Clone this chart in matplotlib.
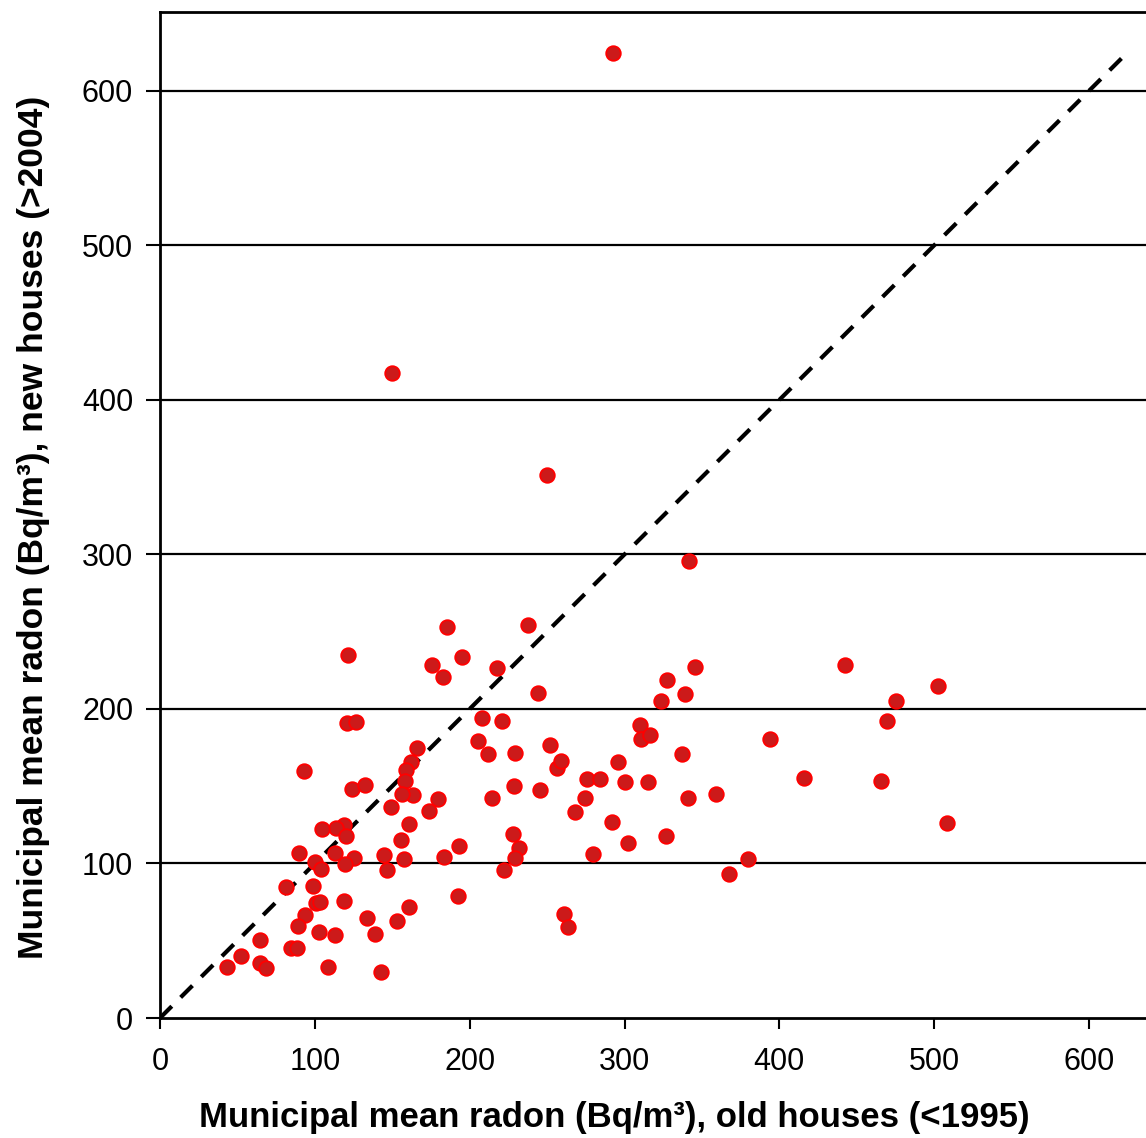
import matplotlib
matplotlib.use("Agg")
import matplotlib.pyplot as plt

old_houses = [292.6, 149.8, 250.0, 341.7, 121.4, 185.4, 237.7, 175.7, 182.8, 195.0,
              217.7, 244.0, 327.5, 345.5, 323.6, 339.1, 442.4, 475.4, 469.5, 502.5,
              120.8, 126.6, 208.0, 220.9, 205.4, 211.8, 229.3, 251.9, 310.0, 310.7,
              316.5, 337.2, 394.0, 165.9, 162.0, 158.9, 93.0, 124.0, 132.4, 158.2,
              163.4, 156.3, 179.6, 214.4, 228.6, 245.4, 256.4, 259.0, 275.8, 284.2,
              295.8, 300.3, 315.2, 274.5, 359.1, 341.0, 415.9, 465.7, 508.3, 149.2,
              118.8, 113.7, 104.6, 120.2, 160.8, 173.7, 155.7, 227.9, 291.9, 302.2,
              326.8, 89.8, 113.0, 100.1, 125.3, 119.5, 144.7, 157.6, 183.4, 193.1,
              231.9, 229.3, 279.7, 379.8, 367.5, 104.0, 146.6, 222.1, 81.4, 98.8,
              100.8, 103.3, 118.8, 93.6, 89.1, 192.5, 133.7, 153.1, 160.8, 261.0,
              263.5, 102.7, 113.0, 138.9, 64.6, 84.6, 88.5, 52.3, 43.3, 64.6,
              68.5, 108.5, 142.7, 268.0]
new_houses = [624.6, 417.5, 351.5, 295.8, 235.0, 253.0, 254.4, 228.5, 220.7, 233.7,
              226.5, 210.4, 218.8, 227.2, 205.2, 209.7, 228.5, 205.2, 192.2, 214.9,
              190.9, 191.6, 194.2, 192.2, 179.3, 170.9, 171.5, 176.7, 189.6, 180.6,
              183.2, 170.9, 180.6, 174.8, 165.7, 160.5, 159.9, 148.2, 150.8, 153.4,
              144.3, 145.0, 141.7, 142.4, 150.2, 147.6, 161.8, 166.3, 154.7, 154.7,
              165.7, 152.8, 152.8, 142.4, 145.0, 142.4, 155.3, 153.4, 126.2, 136.6,
              124.9, 122.9, 122.3, 117.8, 125.6, 134.0, 115.2, 119.1, 126.9, 113.3,
              117.8, 106.8, 106.8, 101.0, 103.6, 99.7, 105.5, 102.9, 104.2, 111.3,
              110.0, 103.6, 106.2, 102.9, 93.2, 96.4, 95.8, 95.8, 84.8, 85.4,
              74.5, 75.1, 75.7, 66.7, 59.5, 79.0, 64.7, 62.8, 71.8, 67.3,
              58.9, 55.7, 53.7, 54.4, 50.5, 45.3, 45.3, 40.1, 33.0, 35.6,
              32.4, 33.0, 29.8, 133.3]
y_ticks = [0, 100, 200, 300, 400, 500, 600]
x_ticks = [0, 100, 200, 300, 400, 500, 600]
identity = [0, 622]

plt.rcParams['font.family'] = ['Liberation Sans', 'DejaVu Sans']

fig = plt.figure(figsize=(11.46, 11.38), dpi=100)
ax = fig.add_axes([160/1146, 1 - 1018/1138, 1 - 160/1146, (1018 - 12)/1138])

ax.set_xlim(0, 636.8)
ax.set_ylim(0, 651)

for yv in y_ticks[1:]:
    ax.axhline(yv, color='black', lw=1.6, zorder=1)

ax.plot(identity, identity, color='black', lw=3, dashes=(4, 3), zorder=2)

ax.scatter(old_houses, new_houses, s=110, facecolor='#CC1A1A', edgecolor='#FF0000',
           linewidths=1.3, zorder=3)

ax.set_xticks(x_ticks)
ax.set_yticks(y_ticks)
ax.tick_params(axis='both', direction='out', width=1.5, labelsize=22, color='black')
ax.tick_params(axis='x', length=8, pad=13)
ax.tick_params(axis='y', length=10, pad=9.3)
for side in ['left', 'bottom', 'top']:
    ax.spines[side].set_linewidth(2)
ax.spines['right'].set_visible(False)

ax.set_xlabel('Municipal mean radon (Bq/m³), old houses (<1995)', fontsize=25,
              fontweight='bold', va='center', ha='center')
ax.xaxis.set_label_coords(0.4604, -0.0994)
ax.set_ylabel('Municipal mean radon (Bq/m³), new houses (>2004)', fontsize=25.5,
              fontweight='bold', va='center', ha='center')
ax.yaxis.set_label_coords(-0.1288, 0.488)

fig.savefig('out.png', dpi=100)
